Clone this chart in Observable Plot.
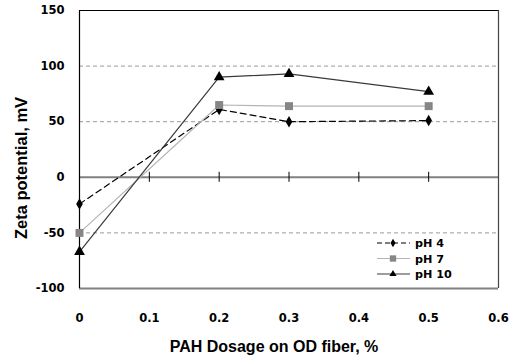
<!DOCTYPE html>
<html><head><meta charset="utf-8">
<script src="https://cdn.jsdelivr.net/npm/d3@7"></script>
<script src="https://cdn.jsdelivr.net/npm/@observablehq/plot@0.6"></script>
<style>
html,body{margin:0;padding:0;background:#fff;}
svg text{font-family:"DejaVu Sans",Verdana,sans-serif;font-weight:bold;}
</style></head>
<body><div id="chart"></div>
<script>
const dosage = [0, 0.2, 0.3, 0.5];
const ph4 = [-24, 61, 50, 51];
const ph7 = [-50, 65, 64, 64];
const ph10 = [-67, 90, 93, 77];
const seriesNames = ["pH 4", "pH 7", "pH 10"];
const xTicks = [0, 0.1, 0.2, 0.3, 0.4, 0.5, 0.6];
const yTicks = [-100, -50, 0, 50, 100, 150];
const gridY = [-50, 50, 100];

const styles = {
  "pH 4": {line: "#000", dash: "6,4", sym: "diamond", fill: "#000", r: 3.5},
  "pH 7": {line: "#b4b4b4", dash: null, sym: "square", fill: "#868686", r: 4.5},
  "pH 10": {line: "#3a3a3a", dash: null, sym: "triangle", fill: "#000", r: 4}
};
const vals = {"pH 4": ph4, "pH 7": ph7, "pH 10": ph10};
const rows = seriesNames.flatMap(s => dosage.map((x, i) => ({s, x, y: vals[s][i]})));

const marks = [
  Plot.ruleY(gridY, {stroke: "#9a9a9a", strokeDasharray: "4,3", strokeWidth: 1}),
  Plot.ruleY([0], {stroke: "#808080", strokeWidth: 2}),
  Plot.ruleY([-100], {stroke: "#808080", strokeWidth: 2}),
  Plot.ruleY([150], {stroke: "#000", strokeWidth: 1}),
  Plot.ruleX([0.6], {stroke: "#444", strokeWidth: 1.2}),
  Plot.ruleX(xTicks.slice(1, 6), {x: d => d, y1: -4.5, y2: 4.5, stroke: "#000", strokeWidth: 1}),
  Plot.ruleX([0], {stroke: "#000", strokeWidth: 1.2}),
  Plot.axisY(yTicks, {tickSize: 0, tickPadding: 15, fontSize: 11.5, fontWeight: "bold", fill: "#000", tickFormat: d => String(d), label: null}),
  Plot.axisX(xTicks, {anchor: "bottom", tickSize: 0, tickPadding: 25, fontSize: 11.5, fontWeight: "bold", fill: "#000", tickFormat: d => String(d), label: null}),
];
for (const s of seriesNames) {
  const st = styles[s];
  const data = rows.filter(d => d.s === s);
  marks.push(Plot.line(data, {x: "x", y: "y", stroke: st.line, strokeWidth: 1.2, strokeDasharray: st.dash}));
}
for (const s of seriesNames) {
  const st = styles[s];
  const data = rows.filter(d => d.s === s);
  marks.push(Plot.dot(data, {x: "x", y: "y", symbol: () => st.sym, fill: st.fill, r: st.r, stroke: "none"}));
}

const svg = Plot.plot({
  width: 516, height: 355,
  marginLeft: 79, marginRight: 18, marginTop: 10, marginBottom: 67,
  x: {domain: [0, 0.6]},
  y: {domain: [-100, 150]},
  style: {background: "#fff", overflow: "visible"},
  marks
});

const sel = d3.select(svg);
// Axis titles
sel.append("text").attr("x", 274).attr("y", 351.5).attr("text-anchor", "middle")
  .style("font-family", '"Liberation Sans", Arial, sans-serif')
  .attr("font-size", 16).text("PAH Dosage on OD fiber, %");
sel.append("text").attr("transform", "translate(26.5,168) rotate(-90)").attr("text-anchor", "middle")
  .style("font-family", '"Liberation Sans", Arial, sans-serif')
  .attr("font-size", 16.5).text("Zeta potential, mV");

// Legend
const lg = sel.append("g");
seriesNames.forEach((s, i) => {
  const st = styles[s];
  const y = 243 + i * 15.5;
  lg.append("line").attr("x1", 377).attr("x2", 410).attr("y1", y).attr("y2", y)
    .attr("stroke", st.line).attr("stroke-width", 1.2).attr("stroke-dasharray", st.dash ? "5,3" : null);
  const sym = {diamond: d3.symbolDiamond, square: d3.symbolSquare, triangle: d3.symbolTriangle}[st.sym];
  lg.append("path").attr("transform", `translate(393,${y})`)
    .attr("d", d3.symbol(sym, st.sym === "square" ? 40 : 22)()).attr("fill", st.fill);
  lg.append("text").attr("x", 415).attr("y", y + 4).attr("text-anchor", "start")
    .attr("font-size", 11.2).text(s);
});

document.getElementById("chart").appendChild(svg);
</script></body></html>
